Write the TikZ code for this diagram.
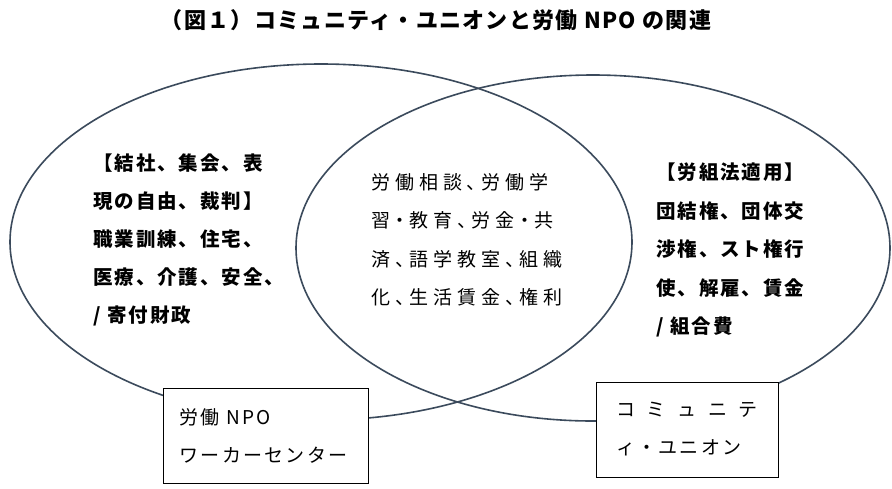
\documentclass[tikz,border=0pt]{standalone}
\usepackage{fontspec}
\usetikzlibrary{positioning}
\newfontfamily\jpfont{Noto Sans CJK JP}
\definecolor{ringline}{HTML}{3B4A5C}

\begin{document}
\begin{tikzpicture}[x=1pt, y=-1pt,
  ring/.style={draw=ringline, line width=1.6pt},
  lbl/.style={anchor=north west, inner sep=0pt, align=left, font=#1},
  tag/.style={draw=black, fill=white, line width=1pt, minimum width=#1, minimum height=95pt, align=left, inner sep=0pt,
    font=\jpfont\addfontfeatures{LetterSpace=12}\fontsize{19}{38}\selectfont}
]
  \useasboundingbox[fill=white] (0,0) rectangle (892,488);
  \node[font=\jpfont\bfseries\addfontfeatures{LetterSpace=6}\fontsize{22}{26}\selectfont] (title) at (436,20)
    {（図１）コミュニティ・ユニオンと労働 NPO の関連};
  % two circles
  \draw[ring] (321,242) ellipse [x radius=311pt, y radius=178pt];
  \draw[ring] (593,248) ellipse [x radius=297pt, y radius=173pt];
  % texts in the circles
  \node[lbl=\jpfont\bfseries\addfontfeatures{LetterSpace=10}\fontsize{19.5}{38}\selectfont] (npoonly) at (93,154)
    {【結社、集会、表\\現の自由、裁判】\\職業訓練、住宅、\\医療、介護、安全、\\/ 寄付財政};
  \node[lbl=\jpfont\addfontfeatures{LetterSpace=26,RawFeature=+halt}\fontsize{19}{38.5}\selectfont] (both) at (371,173)
    {労働相談、労働学\\習・教育、労金・共\\済、語学教室、組織\\化、生活賃金、権利};
  \node[lbl=\jpfont\bfseries\addfontfeatures{LetterSpace=10}\fontsize{19.5}{38.5}\selectfont] (unionly) at (656,163)
    {【労組法適用】\\団結権、団体交\\渉権、スト権行\\使、解雇、賃金\\/ 組合費};
  % name boxes
  \node[tag=205pt] (npo) at (265.5,435.5)
    {\parbox{172pt}{労働 NPO\\ワーカーセンター}};
  \node[tag=182pt] (union) at (687,429.5)
    {\parbox{142pt}{\makebox[142pt][l]{コ\hfill ミ\hfill ュ\hfill ニ\hfill テ}\\ィ・ユニオン}};
\end{tikzpicture}
\end{document}
